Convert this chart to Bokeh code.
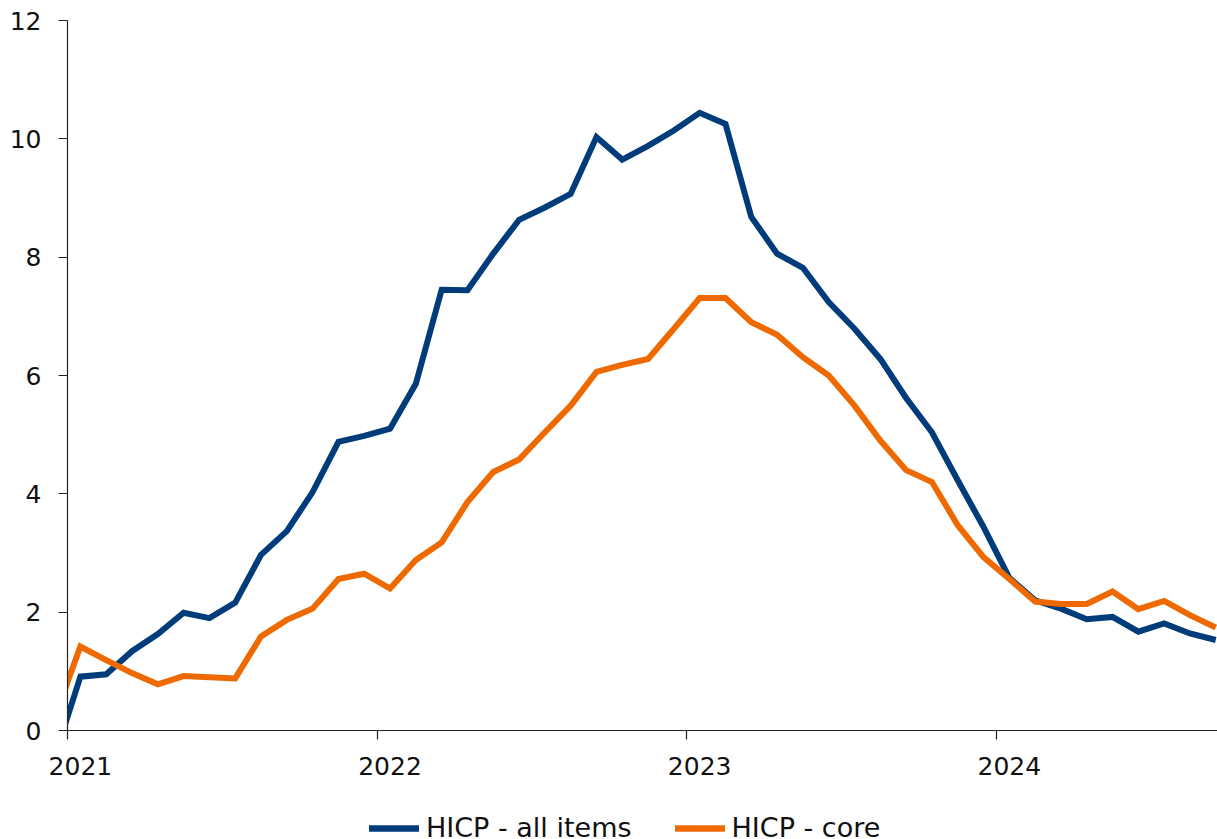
import pandas as pd
from bokeh.plotting import figure
from bokeh.layouts import column
from bokeh.models import Range1d, FixedTicker, Legend, LegendItem, LinearAxis
from bokeh.embed import file_html
from bokeh.resources import INLINE

# Monthly observations, Dec 2020 .. Sep 2024 (annual % change)
months = [str(m) for m in pd.period_range("2020-12", "2024-09", freq="M")]

hicp_all = [
    -0.45,
    0.91, 0.95, 1.34, 1.63, 1.99, 1.90, 2.16, 2.97, 3.37, 4.03, 4.88, 4.98,
    5.10, 5.86, 7.45, 7.44, 8.06, 8.63, 8.84, 9.07, 10.03, 9.65, 9.88, 10.14,
    10.44, 10.25, 8.68, 8.06, 7.82, 7.24, 6.79, 6.28, 5.62, 5.04, 4.23, 3.44,
    2.58, 2.20, 2.06, 1.88, 1.92, 1.67, 1.81, 1.64, 1.53,
]
hicp_core = [
    0.22,
    1.42, 1.19, 0.97, 0.78, 0.92, 0.90, 0.88, 1.59, 1.87, 2.06, 2.56, 2.65,
    2.40, 2.88, 3.18, 3.86, 4.37, 4.58, 5.04, 5.49, 6.06, 6.18, 6.28, 6.79,
    7.31, 7.31, 6.90, 6.69, 6.31, 6.00, 5.49, 4.90, 4.40, 4.20, 3.47, 2.93,
    2.56, 2.18, 2.14, 2.14, 2.35, 2.05, 2.19, 1.95, 1.74,
]

year_ticks = [2021, 2022, 2023, 2024]
year_labels = ["2021", "2022", "2023", "2024"]
y_ticks = [0, 2, 4, 6, 8, 10, 12]

series_names = ["HICP - all items", "HICP - core"]
series_colors = ["#003B7A", "#EE6A00"]

# months plotted at mid-month positions on a year axis
xs = [int(m[:4]) + (int(m[5:7]) - 0.5) / 12 for m in months]
X0, X1 = 2021, 2024.714
HALF_MONTH = 0.5 / 12

FONT = "DejaVu Sans"
FS = "25px"
LEG_FS = "27px"
AX = "#222222"
TXT = "#111111"

H1 = 800
p = figure(
    width=1217, height=H1,
    x_range=Range1d(X0, X1), y_range=Range1d(0, 12),
    output_backend="svg", toolbar_location=None,
    x_axis_location=None,
    min_border_left=67, min_border_right=0, min_border_top=20, min_border_bottom=H1 - 730,
)
p.extra_x_ranges = {"lab": Range1d(X0 - HALF_MONTH, X1 - HALF_MONTH)}
p.outline_line_color = None
p.grid.visible = False

renderers = []
for vals, col in zip([hicp_all, hicp_core], series_colors):
    r = p.line(xs, vals, line_color=col, line_width=6, line_join="miter")
    renderers.append(r)

# y axis
ya = p.yaxis[0]
ya.ticker = FixedTicker(ticks=y_ticks)
ya.axis_line_color = AX
ya.axis_line_width = 1.2
ya.major_tick_line_color = AX
ya.major_tick_line_width = 1.2
ya.major_tick_in = 0
ya.major_tick_out = 9
ya.minor_tick_line_color = None
ya.major_label_standoff = 17
ya.major_label_text_font = FONT
ya.major_label_text_font_size = FS
ya.major_label_text_color = TXT

# x axis: line and tick marks at year boundaries (closest to the frame)
tick_axis = LinearAxis(
    ticker=FixedTicker(ticks=year_ticks),
    major_label_overrides={t: "" for t in year_ticks},
    major_label_text_font_size="1px",
    major_label_standoff=0,
    axis_line_color=AX, axis_line_width=1.2,
    major_tick_line_color=AX, major_tick_line_width=1.2,
    major_tick_in=0, major_tick_out=9,
    minor_tick_line_color=None,
)
p.add_layout(tick_axis, "below")

# x axis labels: centred on the January observation of each year
label_axis = LinearAxis(
    x_range_name="lab",
    ticker=FixedTicker(ticks=year_ticks),
    major_label_overrides={t: l for t, l in zip(year_ticks, year_labels)},
    major_label_text_font=FONT, major_label_text_font_size=FS,
    major_label_text_color=TXT,
    major_label_standoff=17,
    axis_line_color=None, major_tick_line_color=None, minor_tick_line_color=None,
    major_tick_in=0, major_tick_out=0,
)
p.add_layout(label_axis, "below")

# legend strip below the chart
H2 = 839 - H1
q = figure(
    width=1217, height=H2,
    x_range=Range1d(0, 1), y_range=Range1d(0, 1),
    output_backend="svg", toolbar_location=None,
    x_axis_location=None, y_axis_location=None,
    min_border=0, min_border_left=67,
)
q.outline_line_color = None
q.grid.visible = False
# same series drawn in the strip (outside its view) only to supply legend glyphs
leg_renderers = [
    q.line(xs, vals, line_color=c, line_width=6.5, line_cap="round")
    for vals, c in zip([hicp_all, hicp_core], series_colors)
]

legend = Legend(
    items=[LegendItem(label=n, renderers=[r]) for n, r in zip(series_names, leg_renderers)],
    orientation="horizontal",
    location=(302, -4),
    border_line_color=None,
    background_fill_alpha=0,
    glyph_width=50,
    glyph_height=28,
    label_standoff=7,
    spacing=43,
    padding=0,
    margin=0,
    label_text_font=FONT,
    label_text_font_size=LEG_FS,
    label_text_color=TXT,
)
q.add_layout(legend, "center")

open("out.html", "w").write(file_html(column(p, q), INLINE))
